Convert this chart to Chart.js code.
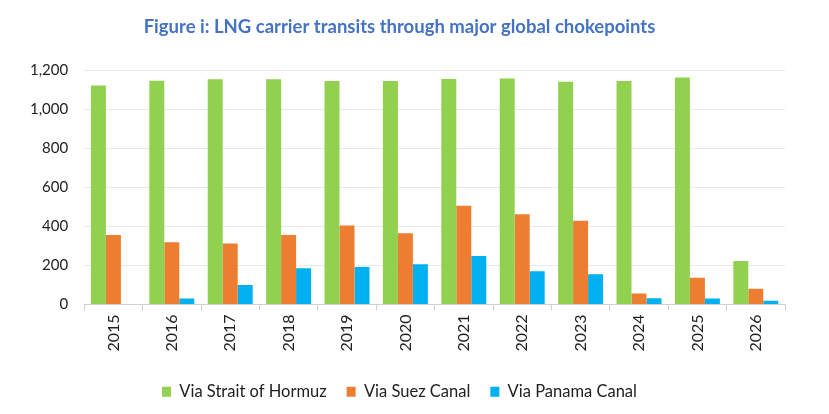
<!DOCTYPE html>
<html lang="en">
<head>
    <meta charset="UTF-8">
    <title>LNG carrier transits</title>
    <style>
        html, body { margin: 0; padding: 0; background: #fff; }
        #wrap { width: 829px; height: 414px; }
    </style>
</head>
<body>
    <div id="wrap">
        <canvas id="myChart"></canvas>
    </div>

    <script src="https://cdn.jsdelivr.net/npm/chart.js"></script>

    <script>
        const years = ['2015', '2016', '2017', '2018', '2019', '2020', '2021', '2022', '2023', '2024', '2025', '2026'];
        const hormuz = [1122, 1146, 1153, 1153, 1145, 1145, 1155, 1157, 1141, 1145, 1162, 222];
        const suez = [355, 319, 312, 355, 404, 364, 506, 462, 428, 56, 137, 80];
        const panama = [0, 30, 99, 185, 191, 205, 248, 170, 154, 31, 30, 19];
        const yTicks = [0, 200, 400, 600, 800, 1000, 1200];

        const ctx = document.getElementById('myChart');

        let lngChart = new Chart(ctx, {
            type: 'bar',
            data: {
                labels: years,
                datasets: [
                    { label: 'Via Strait of Hormuz', data: hormuz, backgroundColor: '#92D050' },
                    { label: 'Via Suez Canal', data: suez, backgroundColor: '#ED7D31' },
                    { label: 'Via Panama Canal', data: panama, backgroundColor: '#00B0F0' }
                ]
            },
            options: {
                responsive: true,
                maintainAspectRatio: false,
                animation: false,
                datasets: { bar: { categoryPercentage: 0.77, barPercentage: 1.0 } },
                layout: { padding: { top: 10, right: 44, left: 14, bottom: 4 } },
                plugins: {
                    title: {
                        display: true,
                        text: 'Figure i: LNG carrier transits through major global chokepoints',
                        color: '#4472C4',
                        font: { family: 'Lato', size: 18.5, weight: 'bold' },
                        padding: { top: 6, bottom: 32 }
                    },
                    legend: {
                        position: 'bottom',
                        labels: {
                            boxWidth: 9,
                            boxHeight: 10,
                            padding: 20,
                            color: '#222',
                            font: { family: 'Lato', size: 16.5 }
                        }
                    },
                    tooltip: { enabled: false }
                },
                scales: {
                    x: {
                        grid: { drawOnChartArea: false, color: '#d0d0d0', tickLength: 6, offset: true },
                        border: { color: '#d0d0d0' },
                        ticks: { maxRotation: 90, minRotation: 90, color: '#222', font: { family: 'Lato', size: 16 }, padding: 4 },
                        afterFit: (axis) => { axis.height += 8; }
                    },
                    y: {
                        min: 0,
                        max: 1200,
                        afterBuildTicks: (axis) => { axis.ticks = yTicks.map(v => ({ value: v })); },
                        grid: { color: '#e9e9e9', drawTicks: false },
                        border: { display: false },
                        ticks: {
                            color: '#222',
                            padding: 16,
                            font: { family: 'Lato', size: 15 },
                            callback: (v) => v.toLocaleString('en-US')
                        }
                    }
                }
            }
        });
    </script>
</body>
</html>
